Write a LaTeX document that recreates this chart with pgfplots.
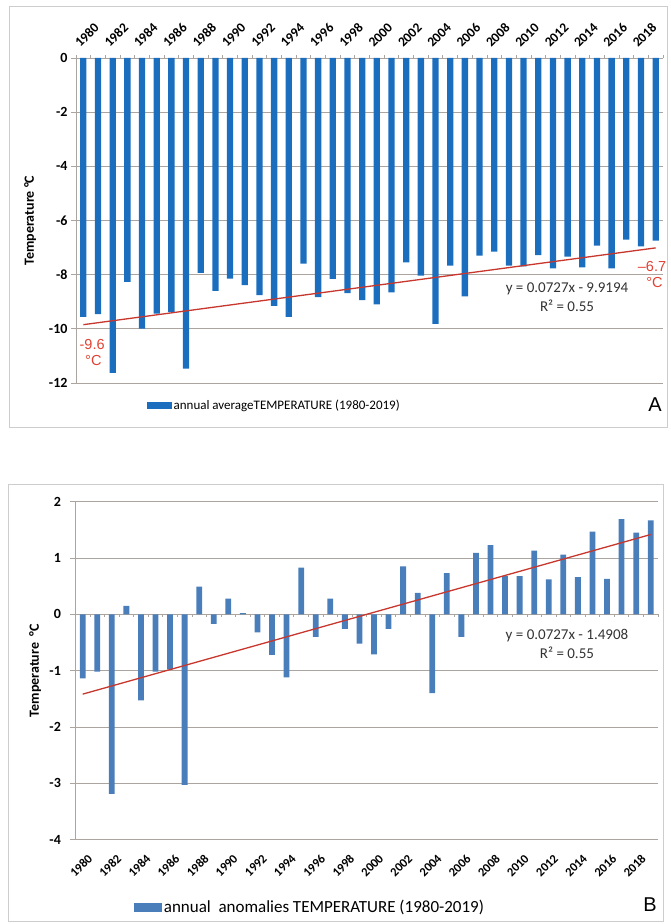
\documentclass[border=0pt]{standalone}
\usepackage{pgfplots}
\pgfplotsset{compat=1.18}
\usepackage{pgfplotstable}
\usepackage{fontspec}
\setmainfont{Carlito}
\newfontfamily\arialfont{Liberation Sans}
\definecolor{barA}{RGB}{27,110,190}
\definecolor{barB}{RGB}{74,126,187}
\definecolor{trend}{RGB}{200,55,45}
\definecolor{redlab}{RGB}{225,65,50}
\definecolor{gridc}{RGB}{172,164,158}
\definecolor{framec}{RGB}{205,205,205}

\pgfplotstableread{
x y
0 -9.56
1 -9.46
2 -11.63
3 -8.27
4 -9.99
5 -9.44
6 -9.38
7 -11.47
8 -7.93
9 -8.60
10 -8.15
11 -8.39
12 -8.76
13 -9.15
14 -9.56
15 -7.59
16 -8.83
17 -8.16
18 -8.68
19 -8.94
20 -9.10
21 -8.65
22 -7.55
23 -8.04
24 -9.82
25 -7.67
26 -8.80
27 -7.30
28 -7.15
29 -7.67
30 -7.69
31 -7.28
32 -7.77
33 -7.33
34 -7.73
35 -6.93
36 -7.77
37 -6.71
38 -6.96
39 -6.74
}\avgdata

\pgfplotstableread{
x y
0 -1.14
1 -1.02
2 -3.19
3 0.15
4 -1.53
5 -1.02
6 -0.98
7 -3.03
8 0.49
9 -0.17
10 0.28
11 0.02
12 -0.32
13 -0.72
14 -1.12
15 0.83
16 -0.40
17 0.28
18 -0.26
19 -0.52
20 -0.71
21 -0.26
22 0.85
23 0.38
24 -1.40
25 0.73
26 -0.40
27 1.09
28 1.23
29 0.68
30 0.68
31 1.13
32 0.62
33 1.06
34 0.66
35 1.47
36 0.63
37 1.69
38 1.45
39 1.67
}\anomdata

\begin{document}
\begin{tikzpicture}
\path (0pt,0pt) rectangle (671pt,924pt);
\draw[framec, line width=1pt] (9pt,496pt) rectangle (667pt,917pt);
\draw[framec, line width=1pt] (8pt,2pt) rectangle (663pt,439pt);

% ---------------- Panel A ----------------
\begin{axis}[
  at={(76pt,541pt)}, anchor=south west,
  scale only axis, width=587pt, height=325pt,
  xmin=-0.5, xmax=39.5, ymin=-12, ymax=0,
  bar width=6.3pt,
  axis x line*=top, axis y line*=left,
  axis line style={gridc, line width=0.8pt},
  xtick={0,2,...,38},
  xticklabels={1980,1982,1984,1986,1988,1990,1992,1994,1996,1998,2000,2002,2004,2006,2008,2010,2012,2014,2016,2018},
  minor xtick={-0.5,0.5,...,39.5},
  every major x tick/.append style={draw=none},
  tick align=outside, major tick length=5pt, minor tick length=3pt,
  tick style={gridc, line width=0.8pt},
  ytick={-12,-10,-8,-6,-4,-2,0},
  yticklabels={-12,-10,-8,-6,-4,-2,0},
  ymajorgrids, grid style={gridc, line width=0.8pt},
  yticklabel style={font=\bfseries\fontsize{14}{14}\selectfont},
  xticklabel style={font=\bfseries\fontsize{13.5}{13.5}\selectfont, rotate=45, anchor=south west, xshift=-2pt, yshift=2pt},
  ylabel={Temperature °C},
  ylabel style={font=\bfseries\fontsize{14}{14}\selectfont, at={(axis description cs:-0.078,0.5)}, anchor=center},
  clip=false,
  legend style={at={(axis description cs:0.12,-0.068)}, anchor=west, draw=none, fill=none,
    font=\fontsize{13}{13}\selectfont, inner sep=0pt},
  legend image code/.code={\fill[barA] (0pt,-3.5pt) rectangle (25pt,3.5pt);},
]
\addplot[ybar, fill=barA, draw=none] table[x=x,y=y] {\avgdata};
\addlegendentry{annual averageTEMPERATURE (1980-2019)}
\addplot[trend, line width=1.3pt, no marks, forget plot] coordinates {(0,-9.8467) (39,-7.0114)};
\node[redlab, font=\arialfont\fontsize{14.5}{16}\selectfont, align=center] at (axis cs:0.6,-10.86) {-9.6\\\,°C};
\node[redlab, font=\arialfont\fontsize{14.5}{16}\selectfont, align=center] at (axis cs:38.75,-8.0) {–6.7\\\,\,°C};
\node[font=\fontsize{15}{19}\selectfont, align=center, text=black!80] at (axis cs:32.96,-8.83) {y = 0.0727x - 9.9194\\R² = 0.55};
\end{axis}
\node[font=\arialfont\fontsize{20}{20}\selectfont] at (655pt,519pt) {A};

% ---------------- Panel B ----------------
\begin{axis}[
  at={(75.4pt,84.5pt)}, anchor=south west,
  scale only axis, width=582.6pt, height=337.8pt,
  xmin=-0.5, xmax=39.5, ymin=-4, ymax=2,
  bar width=5.8pt,
  axis x line*=bottom, axis y line*=left,
  axis line style={gridc, line width=0.8pt},
  xtick={0,2,...,38},
  xticklabels={1980,1982,1984,1986,1988,1990,1992,1994,1996,1998,2000,2002,2004,2006,2008,2010,2012,2014,2016,2018},
  every major x tick/.append style={draw=none},
  tick align=outside, major tick length=5pt,
  tick style={gridc, line width=0.8pt},
  ytick={-4,-3,-2,-1,0,1,2},
  yticklabels={-4,-3,-2,-1,0,1,2},
  ymajorgrids, grid style={gridc, line width=0.8pt},
  yticklabel style={font=\bfseries\fontsize{14}{14}\selectfont, xshift=-6pt},
  xticklabel style={font=\bfseries\fontsize{12.5}{12.5}\selectfont, rotate=45, anchor=north east, yshift=-6pt},
  ylabel={Temperature\ \ °C},
  ylabel style={font=\bfseries\fontsize{14}{14}\selectfont, at={(axis description cs:-0.069,0.5)}, anchor=center},
  clip=false,
  legend style={at={(axis description cs:0.1,-0.2)}, anchor=west, draw=none, fill=none,
    font=\fontsize{17}{17}\selectfont, inner sep=0pt},
  legend image code/.code={\fill[barB] (0pt,-4.5pt) rectangle (28pt,4.5pt);},
]
\addplot[ybar, fill=barB, draw=none] table[x=x,y=y] {\anomdata};
\addlegendentry{annual\ \ anomalies TEMPERATURE (1980-2019)}
\addplot[ycomb, gridc, line width=0.8pt, no marks, forget plot] coordinates {
(-0.5,-0.05) (0.5,-0.05) (1.5,-0.05) (2.5,-0.05) (3.5,-0.05) (4.5,-0.05) (5.5,-0.05) (6.5,-0.05)
(7.5,-0.05) (8.5,-0.05) (9.5,-0.05) (10.5,-0.05) (11.5,-0.05) (12.5,-0.05) (13.5,-0.05) (14.5,-0.05)
(15.5,-0.05) (16.5,-0.05) (17.5,-0.05) (18.5,-0.05) (19.5,-0.05) (20.5,-0.05) (21.5,-0.05) (22.5,-0.05)
(23.5,-0.05) (24.5,-0.05) (25.5,-0.05) (26.5,-0.05) (27.5,-0.05) (28.5,-0.05) (29.5,-0.05) (30.5,-0.05)
(31.5,-0.05) (32.5,-0.05) (33.5,-0.05) (34.5,-0.05) (35.5,-0.05) (36.5,-0.05) (37.5,-0.05) (38.5,-0.05) (39.5,-0.05)};
\addplot[trend, line width=1.3pt, no marks, forget plot] coordinates {(0,-1.4181) (39,1.4172)};
\node[font=\fontsize{15}{19}\selectfont, align=center, text=black!80] at (axis cs:33.25,-0.52) {y = 0.0727x - 1.4908\\R² = 0.55};
\end{axis}
\node[font=\arialfont\fontsize{20}{20}\selectfont] at (650pt,19pt) {B};
\end{tikzpicture}
\end{document}
